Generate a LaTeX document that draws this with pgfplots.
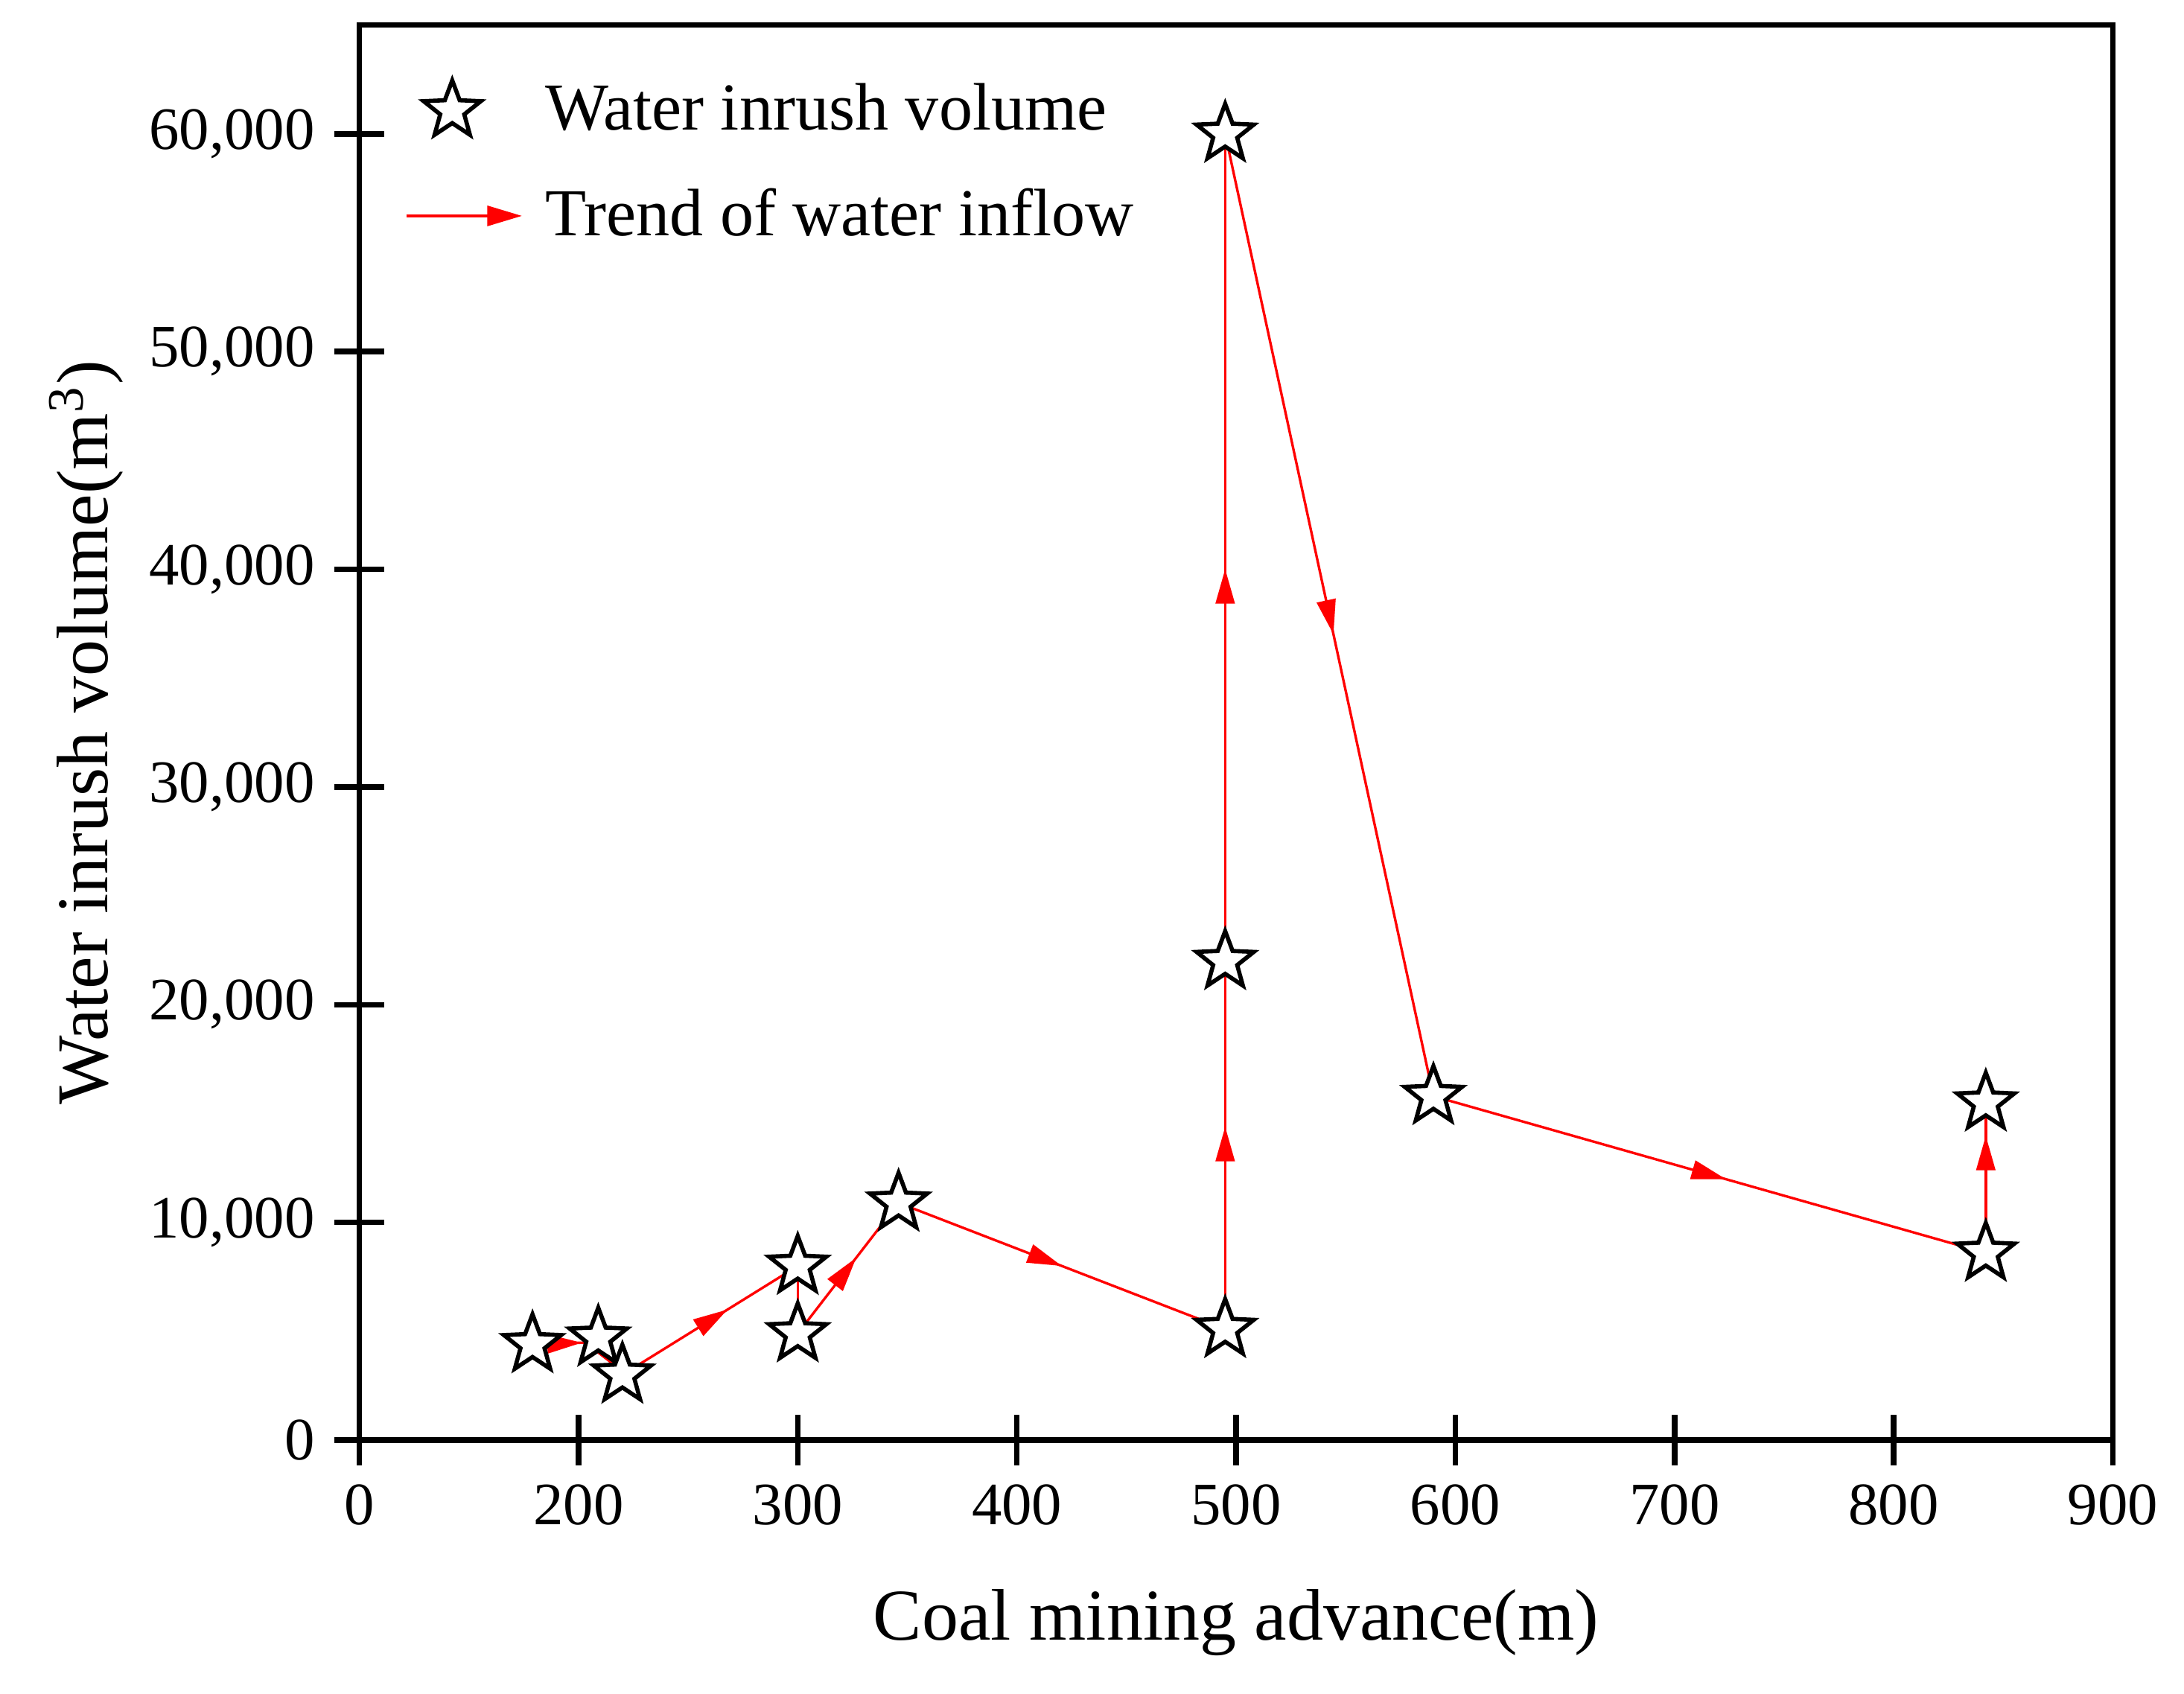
\documentclass[border=0pt]{standalone}
\usepackage{fontspec}
\setmainfont{Liberation Serif}
\usepackage{pgfplots}
\pgfplotsset{compat=1.18}
\usetikzlibrary{arrows.meta,decorations.markings}

\pgfdeclareplotmark{ostar}{%
  \pgfpathmoveto{\pgfpointpolar{90}{\pgfplotmarksize}}%
  \pgfpathlineto{\pgfpointpolar{126}{0.42\pgfplotmarksize}}%
  \pgfpathlineto{\pgfpointpolar{162}{\pgfplotmarksize}}%
  \pgfpathlineto{\pgfpointpolar{198}{0.42\pgfplotmarksize}}%
  \pgfpathlineto{\pgfpointpolar{234}{\pgfplotmarksize}}%
  \pgfpathlineto{\pgfpointpolar{270}{0.42\pgfplotmarksize}}%
  \pgfpathlineto{\pgfpointpolar{306}{\pgfplotmarksize}}%
  \pgfpathlineto{\pgfpointpolar{342}{0.42\pgfplotmarksize}}%
  \pgfpathlineto{\pgfpointpolar{18}{\pgfplotmarksize}}%
  \pgfpathlineto{\pgfpointpolar{54}{0.42\pgfplotmarksize}}%
  \pgfpathclose
  \pgfusepathqfillstroke}

\pgfplotstableread{
x y
179 4400
209 4700
220 3000
300 8000
300 4900
346 10900
495 5100
495 22000
495 60000
590 15800
842 8600
842 15500
}\inrush

\tikzset{
  trendarrow/.tip={Triangle[length=6.2pt,width=3.4pt]},
}
\pgfplotsset{
  trend/.style={red, line width=0.45pt, forget plot,
    postaction={decorate},
    decoration={markings, mark=at position #1 with {\arrow{trendarrow}}}},
  starleg/.style={legend image code/.code={\draw[##1] plot coordinates {(8.25pt,0pt)};}},
  trendleg/.style={legend image code/.code={\draw[red, line width=0.45pt, -{Triangle[length=6.2pt,width=3.6pt]}] (0pt,0pt) -- (20.75pt,0pt);}},
}

\begin{document}
\begin{tikzpicture}
\useasboundingbox (-64.5pt,-45.5pt) rectangle (327.5pt,258.5pt);
\begin{axis}[
  at={(0pt,0pt)}, anchor=south west,
  scale only axis, width=314.75pt, height=254pt,
  xmin=100, xmax=900, ymin=0, ymax=65000,
  xtick={100,200,...,900},
  xticklabels={0,200,300,400,500,600,700,800,900},
  ytick={0,10000,...,60000},
  yticklabels={0,{10,000},{20,000},{30,000},{40,000},{50,000},{60,000}},
  tick align=center, tick pos=left,
  major tick length=9pt,
  every tick/.style={black, line width=1pt},
  axis line style={line width=1pt},
  tick label style={font=\fontsize{10.8}{12}\selectfont},
  xlabel={Coal mining advance(m)},
  ylabel={Water inrush volume(m\textsuperscript{3})},
  label style={font=\fontsize{13.1}{15}\selectfont},
  xlabel style={at={(axis description cs:0.5,-0.129)}, anchor=center},
  ylabel style={at={(axis description cs:-0.1557,0.5)}, anchor=center},
  legend style={at={(axis description cs:0,1)}, anchor=north west,
    xshift=5pt, yshift=-6.2pt, draw=none, fill=none,
    font=\fontsize{12.05}{14}\selectfont, row sep=5pt},
  legend cell align=left,
]
\addplot[only marks, mark=ostar, mark size=5.4pt,
  mark options={draw=black, fill=white, line width=0.75pt, line join=miter},
  starleg]
  table[x=x,y=y] {\inrush};
\addlegendentry{\hspace*{2pt}Water inrush volume}

\addplot[red, line width=0.45pt, trendleg]
  coordinates {(179,4400)};
\addlegendentry{\hspace*{2pt}Trend of water inflow}

\addplot[trend=0.75] coordinates {(179,4400) (209,4500)};
\addplot[trend=0.85] coordinates {(209,4500) (220,3000)};
\addplot[trend=0.6] coordinates {(220,3000) (300,8000)};
\addplot[red, line width=0.45pt, forget plot] coordinates {(300,8000) (300,4900)};
\addplot[trend=0.58] coordinates {(300,4900) (346,10900)};
\addplot[trend=0.5] coordinates {(346,10900) (495,5100)};
\addplot[trend=0.55] coordinates {(495,5100) (495,22000)};
\addplot[trend=0.474] coordinates {(495,22000) (495,60000)};
\addplot[trend=0.52] coordinates {(495,60000) (590,15800)};
\addplot[trend=0.53] coordinates {(590,15800) (842,8600)};
\addplot[trend=0.78] coordinates {(842,8600) (842,15500)};
\end{axis}
\end{tikzpicture}
\end{document}
